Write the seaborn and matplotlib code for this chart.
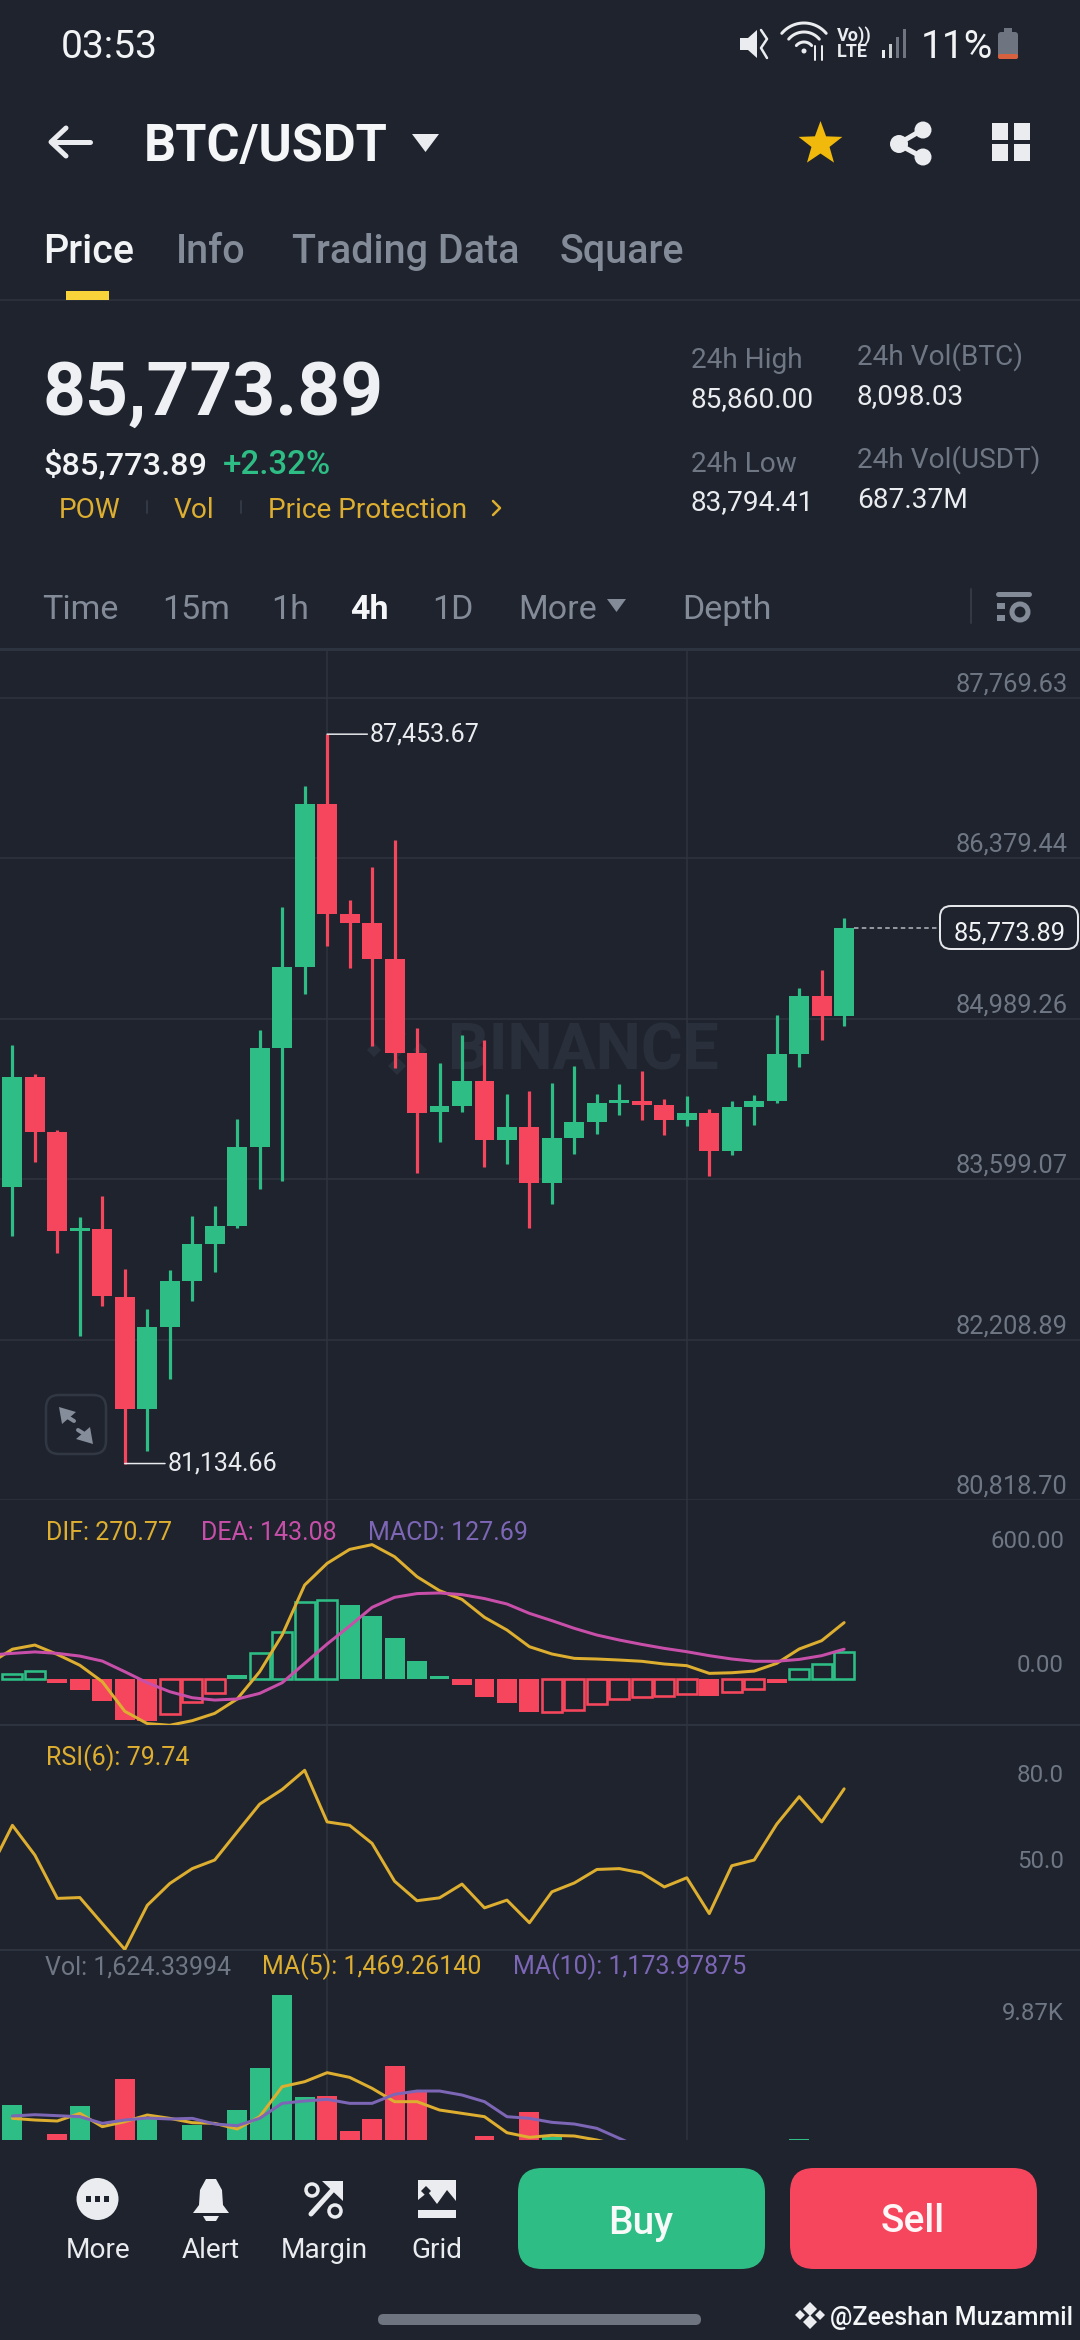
import numpy as np
import pandas as pd
import matplotlib
matplotlib.use("Agg")
import matplotlib.pyplot as plt
from matplotlib.patches import Circle, FancyBboxPatch, Polygon, Rectangle
import seaborn as sns

# ---------- data ----------
OPEN = [83534, 84480, 84009, 83153, 83163, 82578, 81608, 82317, 82716, 83034, 83191, 83881, 84732,
        85435, 86847, 85896, 85815, 85506, 84689, 84180, 84228, 84451, 83938, 84047, 83566, 83957,
        84090, 84256, 84272, 84239, 84110, 84169, 83844, 84223, 84276, 84680, 85188, 85012]
CLOSE = [84480, 84009, 83153, 83172, 82583, 81608, 82317, 82716, 83034, 83191, 83881, 84732, 85435,
         86847, 85896, 85815, 85506, 84689, 84175, 84228, 84451, 83938, 84047, 83567, 83957, 84090,
         84256, 84282, 84239, 84110, 84169, 83844, 84223, 84276, 84680, 85188, 85012, 85773.89]
HIGH = [84760, 84508, 84023, 83272, 83453, 82816, 82473, 82811, 83277, 83362, 84118, 84888, 85953,
        87004, 87453.67, 86015, 86300, 86533, 84907, 84608, 84850, 84803, 84337, 84361, 84435, 84581,
        84335, 84425, 84538, 84295, 84315, 84203, 84276, 84329, 85025, 85254, 85413, 85861]
LOW = [83106, 83743, 82963, 82240, 82502, 81134.66, 81242, 81870, 82545, 82792, 83177, 83510, 83581,
       85202, 85616, 85430, 84755, 84565, 83652, 83923, 84180, 83700, 83733, 83172, 83380, 83814,
       83987, 84153, 84110, 83977, 84060, 83622, 83805, 84067, 84262, 84574, 84800, 84922]
PRICE_TICKS = [87769.63, 86379.44, 84989.26, 83599.07, 82208.89, 80818.70]
PRICE_LABELS = ["87,769.63", "86,379.44", "84,989.26", "83,599.07", "82,208.89", "80,818.70"]

# indicator series start one candle left of the first full candle
MACD_HIST = [-53, 24, 37, -19, -51, -105, -197, -200, -166, -110, -69, 21, 123, 226, 370, 381, 357, 302,
             198, 86, 13, -27, -86, -114, -160, -160, -149, -118, -97, -85, -80, -71, -80, -64, -48, -18,
             50, 74, 127.69]
MACD_HOLLOW = [0, 1, 1, 0, 0, 0, 0, 0, 1, 1, 1, 0, 1, 1, 1, 1, 0, 0, 0, 0, 0, 0, 0, 0, 0,
               1, 1, 1, 1, 1, 1, 1, 0, 1, 1, 0, 1, 1, 1]
DIF = [75, 143, 163, 118, 66, -13, -155, -214, -222, -200, -165, -96, 35, 211, 451, 555, 622, 645, 587,
       491, 424, 382, 296, 235, 155, 120, 99, 96, 91, 85, 72, 64, 27, 30, 38, 75, 144, 184, 270.77]
DEA = [115, 123, 130, 123, 110, 86, 35, -18, -61, -90, -101, -96, -69, -18, 75, 168, 254, 344, 392, 410,
       413, 405, 386, 360, 315, 280, 243, 211, 187, 166, 147, 131, 112, 96, 85, 85, 94, 112, 143.08]
RSI = [51.4, 67.0, 56.6, 41.5, 41.8, 32.7, 23.7, 39.1, 46.7, 51.9, 54.9, 64.7, 74.4, 79.5, 86.2, 68.2, 67.0,
       60.7, 47.5, 40.7, 41.7, 46.5, 38.2, 40.9, 33.0, 43.8, 46.9, 51.6, 51.9, 50.4, 45.5, 48.7, 36.2, 52.9,
       54.9, 67.4, 77.0, 68.2, 79.74]
VOLUME = [3937, 1900, 2373, 3901, 1800, 5339, 3308, 1950, 2876, 2000, 3667, 5915, 9870, 4368, 4422, 2516,
          3182, 6023, 4656, 1700, 1900, 2283, 1500, 3577, 2229, 1300, 900, 700, 800, 700, 500, 1000, 1100,
          800, 1700, 2103, 1200, 1624.34]
MA5 = [3218, 3128, 3074, 3487, 2768, 3038, 3398, 3218, 2984, 2948, 2642, 3308, 4926, 5195, 5681, 5429, 4836,
       4117, 4117, 3667, 3487, 3308, 2444, 2193, 2301, 2265, 2049, 1779, 1500, 1200, 1000, 900, 900, 900,
       1000, 1200, 1300, 1469.26]
MA10 = [3344, 3415, 3362, 3308, 2948, 3128, 3236, 3182, 3218, 2912, 2822, 3218, 4027, 4153, 4243, 4027, 4027,
        4512, 4692, 4692, 4476, 4117, 3308, 3218, 3002, 2912, 2678, 2139, 1600, 1400, 1300, 1200, 1150, 1100,
        1100, 1100, 1150, 1173.98]
VGRID = [14, 30]

BG = "#1E232D"
GRID = "#2E343F"
GREEN = "#2EBD85"
RED = "#F6465D"
YELLOW = "#DDAE2F"
PINK = "#C84FA9"
PURPLE = "#7C66B5"
MUTED = "#6F7785"
TAB = "#848B98"
WHITE = "#EAECEF"

sns.set_theme(style="dark", rc={"axes.facecolor": "none", "figure.facecolor": BG, "axes.edgecolor": BG,
                                "grid.color": GRID, "savefig.facecolor": BG,
                                "patch.force_edgecolor": False, "patch.edgecolor": "none",
                                "patch.linewidth": 0})
plt.rcParams["font.family"] = ["Roboto", "DejaVu Sans"]

W, H = 1080, 2340
fig = plt.figure(figsize=(W / 100, H / 100), dpi=100)
PX = 0.72  # points per pixel at dpi 100


def panel(y0, y1, ylim):
    ax = fig.add_axes([0, 1 - y1 / H, 1, (y1 - y0) / H], zorder=2)
    ax.set_xlim(-12.4 / 22.48, (W - 12.4) / 22.48)
    ax.set_ylim(*ylim)
    ax.set_xticks([])
    ax.set_yticks([])
    ax.set_xlabel("")
    ax.set_ylabel("")
    for s in ax.spines.values():
        s.set_visible(False)
    ax.patch.set_alpha(0)
    return ax


def frame(ax, ylim):
    ax.set_xlim(-12.4 / 22.48, (W - 12.4) / 22.48)
    ax.set_ylim(*ylim)
    ax.set_xlabel("")
    ax.set_ylabel("")
    ax.set_xticks([])


def vgrid(ax):
    for v in VGRID:
        ax.axvline(v, color=GRID, lw=1.5 * PX, zorder=0)


under = fig.add_axes([0, 0, 1, 1], zorder=0)
under.set_xlim(0, W)
under.set_ylim(H, 0)
under.axis("off")
top = fig.add_axes([0, 0, 1, 1], zorder=5)
top.set_xlim(0, W)
top.set_ylim(H, 0)
top.axis("off")
top.patch.set_alpha(0)


def T(x, y, s, px, color=WHITE, ha="left", weight="normal", ax=None):
    (ax or top).text(x, y, s, fontsize=px * PX, color=color, ha=ha, va="center", fontweight=weight, zorder=8)


def RR(x0, y0, x1, y1, r, fc, ec="none", lw=0, ax=None, z=3):
    (ax or top).add_patch(FancyBboxPatch((x0 + r, y0 + r), x1 - x0 - 2 * r, y1 - y0 - 2 * r,
                                         boxstyle=f"round,pad={r}", fc=fc, ec=ec, lw=lw * PX, zorder=z))


def PG(pts, fc, ax=None, z=4):
    (ax or top).add_patch(Polygon(pts, closed=True, fc=fc, ec="none", zorder=z))


def L(xs, ys, c, px=2.5, ax=None, z=4, **kw):
    (ax or top).plot(xs, ys, color=c, lw=px * PX, zorder=z, solid_capstyle="round", **kw)


idx = np.arange(len(OPEN))
up = np.array(CLOSE) >= np.array(OPEN)
colors = [GREEN if u else RED for u in up]
idx_ind = np.arange(-1, len(OPEN))

# ---------- price panel ----------
ax_p = panel(650, 1500, (80818.70, 88183))
ax_p.set_yticks(PRICE_TICKS)
ax_p.set_yticklabels([])
ax_p.tick_params(length=0)
ax_p.grid(True, axis="y", color=GRID, lw=1.5 * PX)
ax_p.set_axisbelow(True)
vgrid(ax_p)
ax_p.vlines(idx, LOW, HIGH, colors=colors, lw=3.2 * PX, zorder=3)
ax_p.bar(idx, np.abs(np.array(CLOSE) - np.array(OPEN)), bottom=np.minimum(OPEN, CLOSE), width=0.885,
         color=colors, linewidth=0, zorder=3)
frame(ax_p, (80818.70, 88183))
for v, s in zip(PRICE_TICKS, PRICE_LABELS):
    ax_p.annotate(s, (1, v), xycoords=("axes fraction", "data"), xytext=(-12.5 * PX, 13.5 * PX),
                  textcoords="offset points", ha="right", va="center", color=MUTED, fontsize=25.5 * PX)
hi = int(np.argmax(HIGH))
lo = int(np.argmin(LOW))
ax_p.annotate(f"{HIGH[hi]:,.2f}", (hi, HIGH[hi]), xytext=(43 * PX, 0), textcoords="offset points",
              color=WHITE, fontsize=25 * PX, va="center", ha="left",
              arrowprops=dict(arrowstyle="-", color=WHITE, lw=1.5 * PX, shrinkA=0, shrinkB=0))
ax_p.annotate(f"{LOW[lo]:,.2f}", (lo, LOW[lo]), xytext=(43 * PX, 0), textcoords="offset points",
              color=WHITE, fontsize=25 * PX, va="center", ha="left",
              arrowprops=dict(arrowstyle="-", color=WHITE, lw=1.5 * PX, shrinkA=0, shrinkB=0))
ax_p.plot([idx[-1] + 0.45, (940 - 12.4) / 22.48], [CLOSE[-1], CLOSE[-1]], color="#B8BCC4", lw=1.5 * PX,
          ls=(0, (3, 2.2)), zorder=2)
RR(940, 906, 1078, 949, 11, BG, ec="#E4E6EA", lw=2, z=4)
T(1066, 933, f"{CLOSE[-1]:,.2f}", 25.5, "#F2F3F5", ha="right")

# watermark
under.text(448, 1052, "BINANCE", fontsize=64 * PX, color="#2A303B", fontweight="bold", va="center", ha="left")
for cx, cy, r in [(397, 1034, 9), (397, 1066, 9), (374, 1050, 7), (420, 1050, 7), (397, 1050, 8)]:
    PG([(cx - r, cy), (cx, cy - r), (cx + r, cy), (cx, cy + r)], "#2A303B", ax=under, z=1)

# ---------- MACD ----------
ax_m = panel(1500, 1725, (-220.8, 859.2))
vgrid(ax_m)
hist = np.array(MACD_HIST, float)
hollow = np.array(MACD_HOLLOW, bool)
hc = [GREEN if v >= 0 else RED for v in hist]
ax_m.bar(idx_ind[~hollow], hist[~hollow], width=0.885, color=np.array(hc)[~hollow], linewidth=0, zorder=2)
ax_m.bar(idx_ind[hollow], hist[hollow], width=0.885, facecolor="none", edgecolor=np.array(hc)[hollow],
         linewidth=2.6 * PX, zorder=2)
sns.lineplot(x=idx_ind, y=DIF, ax=ax_m, color=YELLOW, lw=3 * PX, estimator=None, sort=False, legend=False, zorder=3)
sns.lineplot(x=idx_ind, y=DEA, ax=ax_m, color=PINK, lw=3 * PX, estimator=None, sort=False, legend=False, zorder=4)
frame(ax_m, (-220.8, 859.2))
for v, s in zip([600, 0], ["600.00", "0.00"]):
    ax_m.annotate(s, (1, v), xycoords=("axes fraction", "data"), xytext=(-16 * PX, 13 * PX),
                  textcoords="offset points", ha="right", va="center", color=MUTED, fontsize=24 * PX)

# ---------- RSI ----------
ax_r = panel(1725, 1950, (23.5, 102))
vgrid(ax_r)
sns.lineplot(x=idx_ind, y=RSI, ax=ax_r, color=YELLOW, lw=3 * PX, estimator=None, sort=False, legend=False, zorder=3)
frame(ax_r, (23.5, 102))
for v, s in zip([80, 50], ["80.0", "50.0"]):
    ax_r.annotate(s, (1, v), xycoords=("axes fraction", "data"), xytext=(-16 * PX, 13 * PX),
                  textcoords="offset points", ha="right", va="center", color=MUTED, fontsize=24 * PX)

# ---------- Volume ----------
ax_v = panel(1950, 2140, (2050, 12298))
vgrid(ax_v)
vol_df = pd.DataFrame({"i": idx, "vol": VOLUME, "side": ["up" if u else "down" for u in up]})
sns.barplot(data=vol_df, x="i", y="vol", hue="side", palette={"up": GREEN, "down": RED}, native_scale=True,
            dodge=False, width=0.885, errorbar=None, legend=False, ax=ax_v, zorder=2, linewidth=0, saturation=1)
sns.lineplot(x=idx, y=MA5, ax=ax_v, color=YELLOW, lw=3 * PX, estimator=None, sort=False, legend=False, zorder=3)
sns.lineplot(x=idx, y=MA10, ax=ax_v, color=PURPLE, lw=3 * PX, estimator=None, sort=False, legend=False, zorder=4)
frame(ax_v, (2050, 12298))
ax_v.set_yticks([])

# ---------- dividers ----------
L([0, W], [300, 300], GRID, 1.5, ax=under, z=1)
L([0, W], [649, 649], GRID, 3, ax=under, z=1)
L([0, W], [1725, 1725], GRID, 2, ax=under, z=1)
L([0, W], [1950, 1950], GRID, 2, ax=under, z=1)

# ---------- status bar ----------
T(61, 47, "03:53", 39, "#F2F3F5")
T(921, 48, "11%", 39, "#F2F3F5")
PG([(740, 38), (748, 38), (757, 30), (757, 58), (748, 50), (740, 50)], WHITE)
L([761, 767, 761, 767], [30, 39, 48, 58], WHITE, 2.5)
for r in [10, 20, 29]:
    th = np.radians(np.linspace(220, 320, 30))
    L(804 + r * np.cos(th), 52 + r * np.sin(th), WHITE, 3)
top.add_patch(Circle((804, 51), 2.5, fc=WHITE, ec="none", zorder=4))
L([815, 815], [46, 60], WHITE, 2)
L([822, 822], [46, 60], WHITE, 2)
T(837, 36, "Vo))", 18, WHITE, weight="bold")
T(837, 52, "LTE", 18, WHITE, weight="bold")
for i, (x, h, c) in enumerate(zip([883, 890, 897, 904], [8, 14, 21, 29], [WHITE, "#C9CCD1", "#6F7580", "#6F7580"])):
    top.add_patch(Rectangle((x - 1.5, 58 - h), 3.5, h, fc=c, ec="none", zorder=4))
RR(998, 32, 1018, 59, 3, "#6F7580")
top.add_patch(Rectangle((1004, 28), 8, 5, fc="#6F7580", ec="none", zorder=3))
RR(998, 54, 1018, 59, 2, "#D7603E", z=4)

# ---------- header ----------
L([52, 90], [142, 142], WHITE, 5)
L([66, 51, 66], [128, 142, 156], WHITE, 5)
T(144, 147, "BTC/USDT", 50.5, "#F5F6F7", weight="bold")
PG([(412, 134), (439, 134), (425.5, 152)], WHITE)
th = np.radians(np.arange(10) * 36 - 90)
rr = np.where(np.arange(10) % 2 == 0, 23, 9.5)
PG(np.c_[820.5 + rr * np.cos(th), 144 + rr * np.sin(th)], "#F0B90B")
L([922, 898, 922], [130, 144, 157], WHITE, 5)
for cx, cy, r in [(923, 130, 8.5), (899, 144, 9), (923, 157, 8.5)]:
    top.add_patch(Circle((cx, cy), r, fc=WHITE, ec="none", zorder=4))
for x0, y0 in [(992, 123), (1014, 123), (992, 144), (1014, 144)]:
    top.add_patch(Rectangle((x0, y0), 16, 17, fc=WHITE, ec="none", zorder=4))

for x, s, c, w in [(43, "Price", "#F2F3F5", "medium"), (176, "Info", TAB, "medium"),
                   (292, "Trading Data", TAB, "medium"), (560, "Square", TAB, "medium")]:
    T(x, 252, s, 39.5, c, weight=w)
top.add_patch(Rectangle((66, 291), 43, 9, fc="#F8D33A", ec="none", zorder=4))

# ---------- price summary ----------
T(42, 395, "85,773.89", 75, "#EEF0F3", weight="bold")
T(43, 465, "$85,773.89", 32.5, "#F2F3F5", weight="medium")
T(223, 465, "+2.32%", 33, GREEN, weight="medium")
T(59, 510, "POW", 28, YELLOW)
T(174, 510, "Vol", 28, YELLOW)
T(268, 510, "Price Protection", 28, YELLOW)
L([147, 147], [501, 513], "#333944", 2)
L([241, 241], [501, 513], "#333944", 2)
L([493, 500, 493], [501, 508, 515], YELLOW, 2.5)
T(691, 360, "24h High", 28, MUTED)
T(691, 400, "85,860.00", 28, WHITE)
T(691, 464, "24h Low", 28, MUTED)
T(691, 503, "83,794.41", 28, WHITE)
T(857, 357, "24h Vol(BTC)", 28, MUTED)
T(857, 397, "8,098.03", 28, WHITE)
T(857, 460, "24h Vol(USDT)", 28, MUTED)
T(857, 500, "687.37M", 28, WHITE)

# ---------- timeframe row ----------
for x, s in [(42, "Time"), (162, "15m"), (271, "1h"), (432, "1D"), (518, "More"), (682, "Depth")]:
    T(x, 610, s, 34, TAB)
T(350, 610, "4h", 34, "#F5F6F7", weight="bold")
PG([(607, 599), (626, 599), (616.5, 612)], TAB)
L([971, 971], [589, 623], "#333944", 2)
L([998, 1029], [594, 594], TAB, 5)
top.add_patch(Rectangle((997, 603), 8, 6, fc=TAB, ec="none", zorder=4))
top.add_patch(Rectangle((997, 615), 8, 6, fc=TAB, ec="none", zorder=4))
top.add_patch(Circle((1020, 612), 8, fc=BG, ec=TAB, lw=5 * PX, zorder=4))

# ---------- expand button ----------
RR(46, 1395, 106, 1454, 13, BG, ec="#323843", lw=2.5)
PG([(59, 1407), (76, 1412), (62, 1424)], "#868D9A")
PG([(93, 1444), (76, 1439), (90, 1427)], "#868D9A")
L([66, 74], [1416, 1421], "#868D9A", 4)
L([78, 86], [1430, 1435], "#868D9A", 4)

# ---------- indicator captions ----------
T(46, 1533, "DIF: 270.77", 25, YELLOW)
T(201, 1533, "DEA: 143.08", 25, PINK)
T(368, 1533, "MACD: 127.69", 25, PURPLE)
T(46, 1758, "RSI(6): 79.74", 25, YELLOW)
T(45, 1967, "Vol: 1,624.33994", 25, MUTED)
T(262, 1967, "MA(5): 1,469.26140", 25, YELLOW)
T(513, 1967, "MA(10): 1,173.97875", 25, PURPLE)
T(1064, 2014, "9.87K", 24, MUTED, ha="right")

# ---------- bottom bar ----------
top.add_patch(Circle((97.5, 2199), 21, fc=WHITE, ec="none", zorder=4))
for dx in [-9, 0, 9]:
    top.add_patch(Rectangle((97.5 + dx - 2.5, 2196), 5, 6, fc=BG, ec="none", zorder=5))
PG([(193, 2213), (199, 2205), (200, 2190), (206, 2179), (216, 2179), (222, 2190), (223, 2205), (229, 2213)], WHITE)
PG([(203, 2216), (219, 2216), (216, 2221), (206, 2221)], WHITE)
L([311, 338], [2214, 2184], WHITE, 5)
PG([(322, 2181), (343, 2181), (343, 2201)], WHITE)
for cx, cy in [(312, 2190), (335, 2211)]:
    top.add_patch(Circle((cx, cy), 6, fc=BG, ec=WHITE, lw=3.5 * PX, zorder=5))
PG([(418, 2180), (456, 2180), (456, 2201), (447, 2190), (437, 2204), (428, 2192), (418, 2200)], WHITE)
PG([(426, 2186), (431, 2191), (426, 2196), (421, 2191)], BG, z=5)
top.add_patch(Rectangle((418, 2210), 38, 8, fc=WHITE, ec="none", zorder=4))
for x, s in [(98, "More"), (211, "Alert"), (324, "Margin"), (437, "Grid")]:
    T(x, 2251, s, 28, WHITE, ha="center")
RR(518, 2168, 765, 2269, 24, GREEN)
RR(790, 2168, 1037, 2269, 24, RED)
T(641, 2224, "Buy", 39, "#F7FAF9", ha="center", weight="medium")
T(913, 2222, "Sell", 39, "#FFF6F7", ha="center", weight="medium")
RR(378, 2314, 701, 2325, 5.5, "#6F7580")
for cx, cy, r in [(810, 2309, 7), (810, 2322, 7), (800, 2315, 5), (820, 2315, 5)]:
    PG([(cx - r, cy), (cx, cy - r), (cx + r, cy), (cx, cy + r)], WHITE)
T(830, 2318, "@Zeeshan Muzammil", 25, "#F5F6F7", weight="medium")

fig.savefig("out.png", dpi=100, facecolor=BG)
